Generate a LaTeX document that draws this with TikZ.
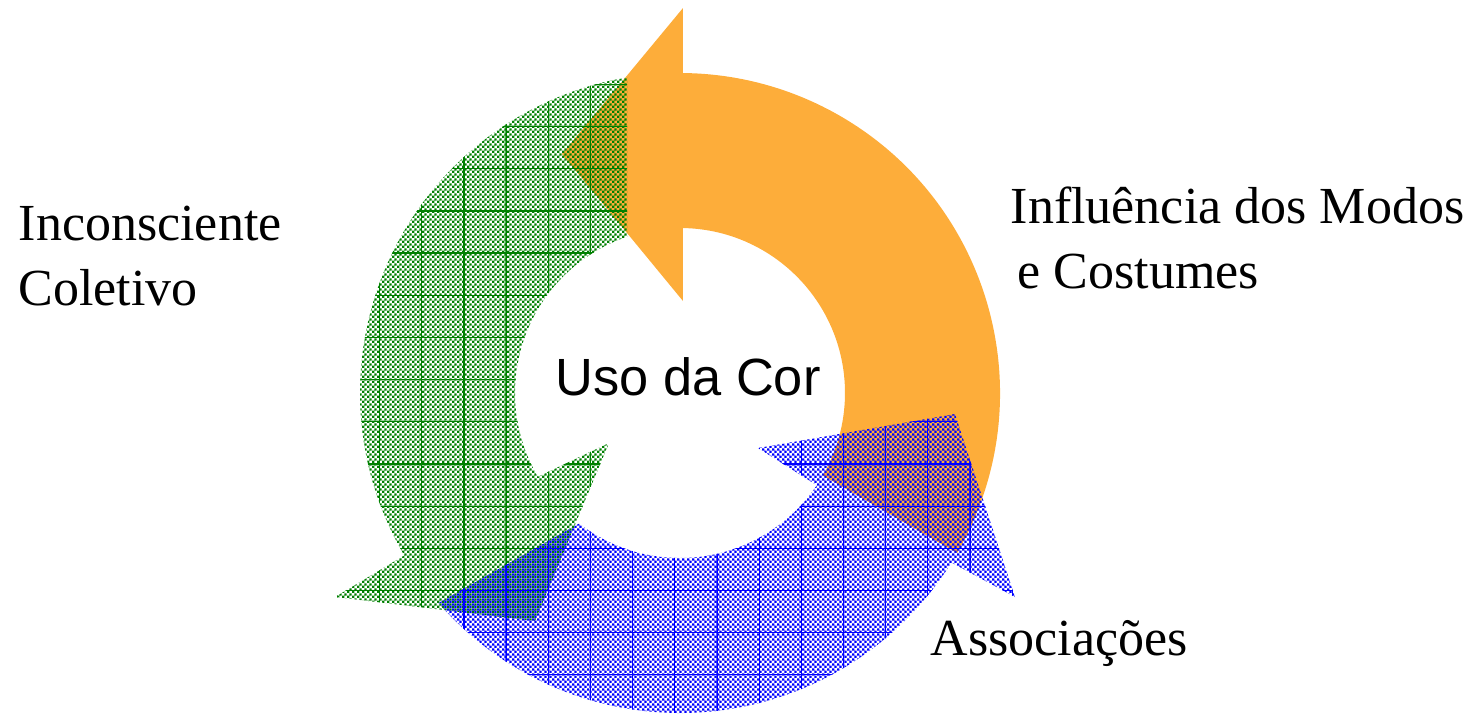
\documentclass[tikz,border=0pt]{standalone}
\usepackage{fontspec}
\setmainfont{Liberation Serif}
\newfontfamily\arialfont{Liberation Sans}
\usetikzlibrary{patterns}

\definecolor{laranja}{RGB}{253,173,58}
\definecolor{verde}{RGB}{0,128,0}
\definecolor{azul}{RGB}{0,0,255}

% fine checkerboards (two phases) and a wide grid
\pgfdeclarepatternformonly{xadrezA}{\pgfpointorigin}{\pgfqpoint{1.5pt}{1.5pt}}{\pgfqpoint{1.5pt}{1.5pt}}{%
  \pgfpathrectangle{\pgfpointorigin}{\pgfqpoint{0.75pt}{0.75pt}}%
  \pgfpathrectangle{\pgfqpoint{0.75pt}{0.75pt}}{\pgfqpoint{0.75pt}{0.75pt}}%
  \pgfusepath{fill}}
\pgfdeclarepatternformonly{xadrezB}{\pgfpointorigin}{\pgfqpoint{1.5pt}{1.5pt}}{\pgfqpoint{1.5pt}{1.5pt}}{%
  \pgfpathrectangle{\pgfqpoint{0.75pt}{0pt}}{\pgfqpoint{0.75pt}{0.75pt}}%
  \pgfpathrectangle{\pgfqpoint{0pt}{0.75pt}}{\pgfqpoint{0.75pt}{0.75pt}}%
  \pgfusepath{fill}}
\pgfdeclarepatternformonly{grade}{\pgfqpoint{-0.2pt}{-0.2pt}}{\pgfqpoint{12.2pt}{12.2pt}}{\pgfqpoint{12pt}{12pt}}{%
  \pgfsetlinewidth{0.35pt}%
  \pgfpathmoveto{\pgfpointorigin}\pgfpathlineto{\pgfqpoint{12pt}{0pt}}%
  \pgfpathmoveto{\pgfpointorigin}\pgfpathlineto{\pgfqpoint{0pt}{12pt}}%
  \pgfusepath{stroke}}

\begin{document}
\begin{tikzpicture}[x=0.1mm,y=0.1mm,
    seta verde/.style={pattern=xadrezA, pattern color=verde,
      postaction={pattern=grade, pattern color=verde}},
    seta azul/.style={pattern=xadrezB, pattern color=azul,
      postaction={pattern=grade, pattern color=azul}}]

  \useasboundingbox (-680,-324) rectangle (796,393);

  % orange arrow
  \fill[laranja] (3,385) -- (-118,239) -- (3,92) -- (89:165)
    arc[start angle=89, end angle=-30, radius=165] -- (-30:320)
    arc[start angle=-30, end angle=89.5, radius=320] -- cycle;

  % green arrow
  \path[seta verde] (99.5:320)
    arc[start angle=99.5, end angle=210.5, radius=320]
    -- (-345,-204) -- (-145,-228) -- (-71,-50) -- (210.5:165)
    arc[start angle=210.5, end angle=108.7, radius=165] -- cycle;

  % blue arrow
  \path[seta azul] (221:320)
    arc[start angle=221, end angle=328, radius=320]
    -- (335,-204) -- (275,-21) -- (78,-55) -- (326:165)
    arc[start angle=326, end angle=232.3, radius=165] -- cycle;

  \begin{scope}[every node/.style={anchor=base west,inner sep=0pt,
      font=\fontsize{14.8}{17}\selectfont}]
    \node (inconsciente) at (-662,153) {Inconsciente};
    \node (coletivo)     at (-662,88)  {Coletivo};
    \node (influencia)   at (330,170)  {Influência dos Modos};
    \node (costumes)     at (337,105)  {e Costumes};
    \node (associacoes)  at (250,-262) {Associações};
  \end{scope}

  \node[anchor=base west,inner sep=0pt,font=\arialfont\fontsize{14.9}{17}\selectfont]
    (uso) at (-125,-2) {Uso da Cor};

\end{tikzpicture}
\end{document}
